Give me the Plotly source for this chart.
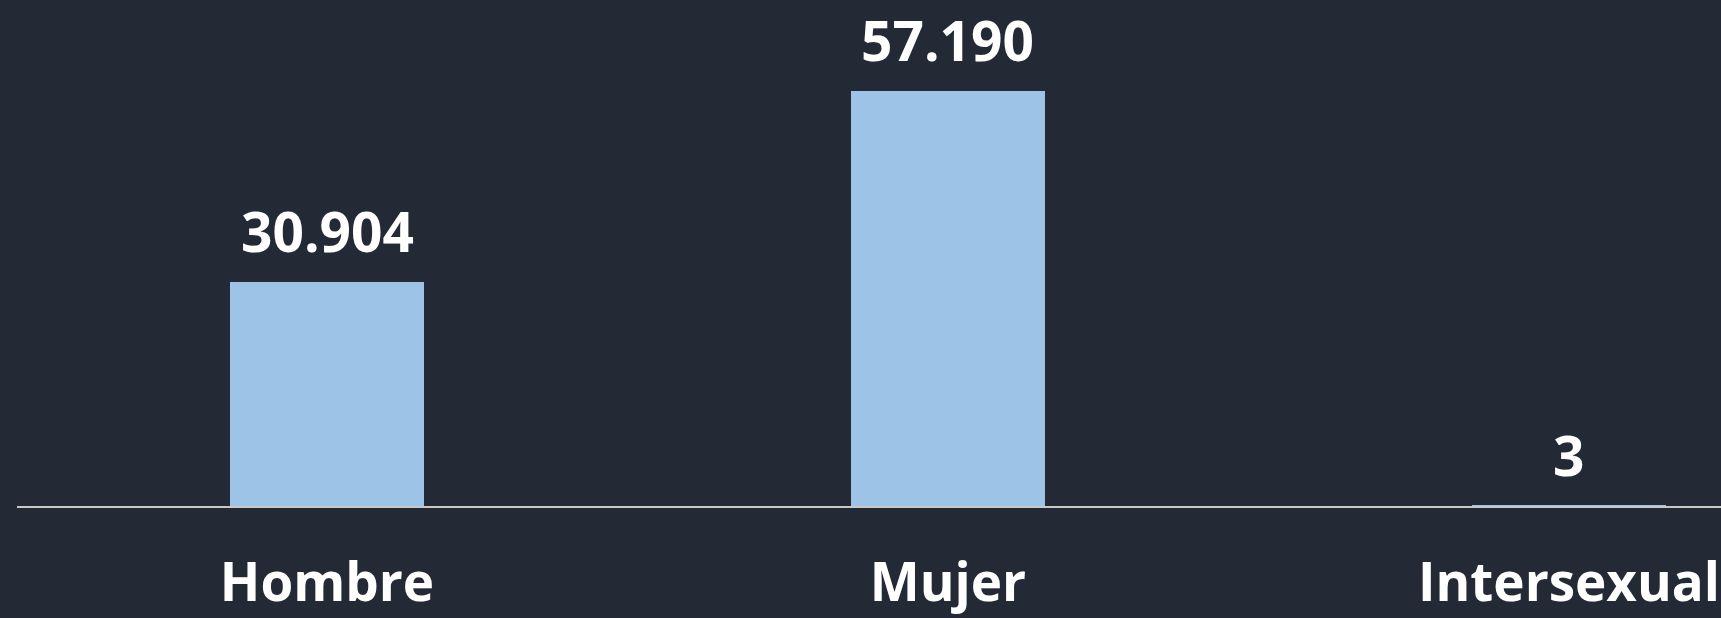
import plotly.graph_objects as go

categories = ["Hombre", "Mujer", "Intersexual"]
values = [30904, 57190, 3]

BG = "#232a36"
BAR = "#9dc3e6"
FONT = "Open Sans"

fig = go.Figure(
    go.Bar(
        x=categories,
        y=values,
        width=0.313,
        marker=dict(color=BAR, line=dict(width=0)),
        hoverinfo="skip",
    )
)

for c, v in zip(categories, values):
    fig.add_annotation(
        x=c,
        y=v,
        text=f"{v:,}".replace(",", "."),
        showarrow=False,
        yanchor="bottom",
        yshift=12,
        font=dict(family=FONT, size=55, color="white", weight="bold"),
    )

fig.update_layout(
    width=1721,
    height=618,
    paper_bgcolor=BG,
    plot_bgcolor=BG,
    margin=dict(l=17, r=0, t=0, b=112, autoexpand=False),
    showlegend=False,
    bargap=0,
    xaxis=dict(
        type="category",
        range=[-0.4992, 2.2448],
        automargin=False,
        showgrid=False,
        showline=True,
        linecolor="#c8c8c8",
        linewidth=2,
        ticks="",
        ticklabelstandoff=29,
        tickfont=dict(family=FONT, size=53, color="white", weight="bold"),
        zeroline=False,
    ),
    yaxis=dict(
        range=[0, 69730],
        visible=False,
        automargin=False,
        showgrid=False,
        zeroline=False,
    ),
)

fig.write_html(
    "out.html",
    config={"displayModeBar": False},
    post_script="document.body.style.margin='0';document.body.style.background='%s';" % BG,
)
